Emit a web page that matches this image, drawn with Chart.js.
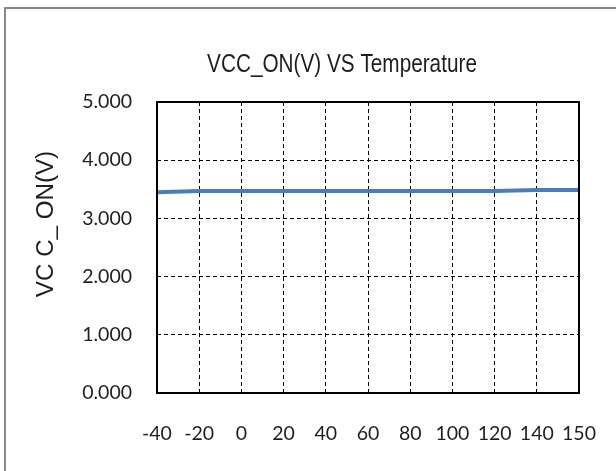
<!DOCTYPE html>
<html>
<head>
<meta charset="utf-8">
<script src="https://cdn.jsdelivr.net/npm/chart.js@4/dist/chart.umd.min.js"></script>
<style>
  html, body { margin:0; padding:0; width:616px; height:471px; overflow:hidden; background:#fff; }
  #frame { position:absolute; left:4px; top:7px; width:700px; height:600px; border:2px solid #878787; box-sizing:border-box; }
  #wrap { position:absolute; left:0; top:0; width:616px; height:471px; }
</style>
</head>
<body>
<div id="frame"></div>
<div id="wrap"><canvas id="c" width="616" height="471"></canvas></div>
<script>
const chartTitle = 'VCC_ON(V) VS Temperature';
const yAxisTitle = 'VC C_ ON(V)';
const temperatures = ['-40', '-20', '0', '20', '40', '60', '80', '100', '120', '140', '150'];
const vccOn = [3.45, 3.47, 3.47, 3.47, 3.47, 3.47, 3.47, 3.47, 3.47, 3.49, 3.49];
const yMin = 0, yMax = 5, yStep = 1;

const FONT = "'Liberation Sans', Arial, sans-serif";
const TICKFONT = "Lato, 'Liberation Sans', sans-serif";
const TEXT = '#1e1e1e';

const textPlugin = {
  id: 'textPlugin',
  afterDraw(chart) {
    const ctx = chart.ctx;
    const a = chart.chartArea;
    ctx.save();
    ctx.strokeStyle = '#000';
    ctx.lineWidth = 2;
    ctx.setLineDash([]);
    ctx.strokeRect(a.left, a.top, a.right - a.left, a.bottom - a.top);
    ctx.fillStyle = TEXT;
    ctx.textAlign = 'center';
    ctx.textBaseline = 'middle';
    ctx.save();
    ctx.font = '25px ' + FONT;
    ctx.translate(342, 65);
    ctx.scale(0.83, 1);
    ctx.fillText(chartTitle, 0, 0);
    ctx.restore();
    ctx.save();
    ctx.font = '23px ' + FONT;
    ctx.translate(47, 224);
    ctx.rotate(-Math.PI / 2);
    ctx.scale(1.05, 1);
    ctx.fillText(yAxisTitle, 0, 0);
    ctx.restore();
    ctx.restore();
  }
};

new Chart(document.getElementById('c'), {
  type: 'line',
  data: {
    labels: temperatures,
    datasets: [{
      data: vccOn,
      borderColor: '#4a7dba',
      borderWidth: 4,
      pointRadius: 0,
      pointHoverRadius: 0,
      tension: 0,
      fill: false
    }]
  },
  options: {
    responsive: false,
    animation: false,
    devicePixelRatio: 1,
    layout: { autoPadding: false, padding: { top: 102, right: 37, left: 0, bottom: 0 } },
    plugins: { legend: { display: false }, title: { display: false }, tooltip: { enabled: false } },
    scales: {
      x: {
        type: 'category',
        offset: false,
        grid: { color: '#000', lineWidth: 1, drawTicks: true, tickLength: 28, tickColor: 'rgba(0,0,0,0)' },
        border: { display: false, dash: [4, 3] },
        ticks: { color: TEXT, font: { family: TICKFONT, size: 19.5 }, padding: 1, maxRotation: 0, autoSkip: false },
        afterFit(s) { s.height = 78; }
      },
      y: {
        min: yMin, max: yMax,
        grid: { color: '#000', lineWidth: 1, drawTicks: true, tickLength: 24, tickColor: 'rgba(0,0,0,0)' },
        border: { display: false, dash: [4, 3] },
        ticks: { stepSize: yStep, color: TEXT, font: { family: TICKFONT, size: 19.5 }, padding: 1,
                 callback: v => Number(v).toFixed(3) },
        afterFit(s) { s.width = 157; }
      }
    }
  },
  plugins: [textPlugin]
});
</script>
</body>
</html>
